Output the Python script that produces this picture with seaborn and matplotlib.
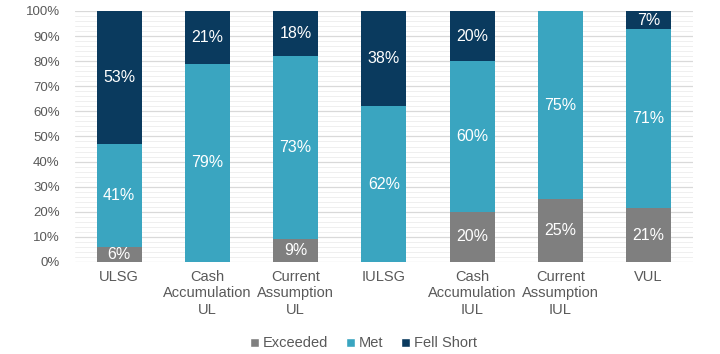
import numpy as np
import pandas as pd
import matplotlib.pyplot as plt
import seaborn as sns
from matplotlib.ticker import MultipleLocator, PercentFormatter
from matplotlib.patches import Patch

categories = ["ULSG", "Cash\nAccumulation\nUL", "Current\nAssumption\nUL", "IULSG",
              "Cash\nAccumulation\nIUL", "Current\nAssumption\nIUL", "VUL"]
exceeded = [6, 0, 9, 0, 20, 25, 21.4]
met = [41, 79, 73, 62, 60, 75, 71.4]
fell_short = [53, 21, 18, 38, 20, 0, 7.2]

series = ["Exceeded", "Met", "Fell Short"]
colors = {"Exceeded": "#7f7f7f", "Met": "#3aa5c0", "Fell Short": "#0a3a5e"}

sns.set_style("white")
plt.rcParams["font.family"] = ["Liberation Sans", "DejaVu Sans"]

df = pd.DataFrame({"cat": categories, "Exceeded": exceeded, "Met": met, "Fell Short": fell_short})
df["c1"] = df["Exceeded"]
df["c2"] = df["c1"] + df["Met"]
df["c3"] = df["c2"] + df["Fell Short"]

fig = plt.figure(figsize=(7.2, 3.54), dpi=100)
ax = fig.add_axes([0.104, 0.26, 0.858, 0.709])

# draw from the top segment down so lower segments cover upper ones
for col, name in [("c3", "Fell Short"), ("c2", "Met"), ("c1", "Exceeded")]:
    sns.barplot(data=df, x="cat", y=col, color=colors[name], width=0.51,
                saturation=1, linewidth=0, ax=ax, zorder=3)

# value labels in segment middles
for i in range(len(categories)):
    bottom = 0
    for name in series:
        v = df[name].iloc[i]
        if v > 0:
            ax.text(i, bottom + v / 2, f"{v:.0f}%", ha="center", va="center",
                    color="white", fontsize=11.5, zorder=5)
        bottom += v

ax.set_ylim(0, 100)
ax.set_xlim(-0.5, len(categories) - 0.5)
ax.yaxis.set_major_locator(MultipleLocator(10))
ax.yaxis.set_minor_locator(MultipleLocator(2))
ax.yaxis.set_major_formatter(PercentFormatter(decimals=0))
ax.grid(axis="y", which="major", color="#d9d9d9", linewidth=0.9, zorder=0)
ax.grid(axis="y", which="minor", color="#efefef", linewidth=0.7, zorder=0)
ax.set_axisbelow(True)
ax.set_xlabel("")
ax.set_ylabel("")
for s in ax.spines.values():
    s.set_visible(False)
ax.tick_params(axis="both", which="both", length=0, colors="#595959")
ax.tick_params(axis="y", labelsize=9.5, pad=11)
ax.tick_params(axis="x", labelsize=10.5, pad=6)
for lbl in ax.get_xticklabels():
    lbl.set_linespacing(1.2)

handles = [Patch(facecolor=colors[n], label=n) for n in series]
fig.legend(handles=handles, loc="center", bbox_to_anchor=(0.505, 0.03), ncol=3,
           frameon=False, fontsize=10.5, handlelength=0.6, handleheight=0.6,
           handletextpad=0.3, columnspacing=1.2, labelcolor="#595959")

fig.savefig("out.png", dpi=100)
